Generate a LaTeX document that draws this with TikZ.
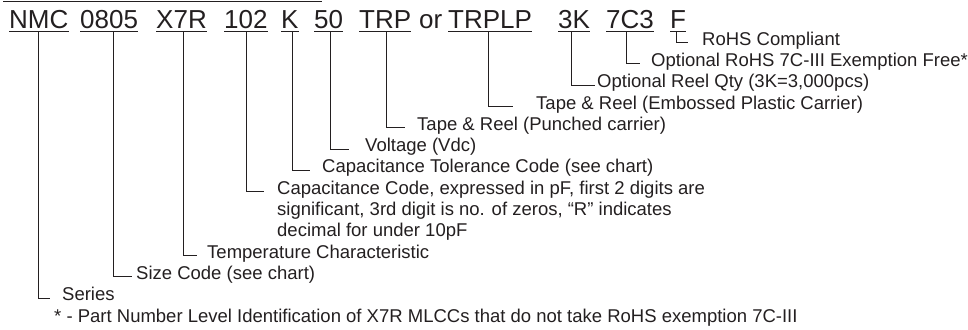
\documentclass[tikz,border=0pt]{standalone}
\usepackage{fontspec}
\setmainfont{Liberation Sans}
\definecolor{ink}{RGB}{35,31,32}
\begin{document}
\begin{tikzpicture}[x=1pt,y=-1pt,
  ink/.style={color=ink},
  tok/.style={inner sep=0pt,anchor=base west,font=\fontsize{26}{30}\selectfont,text=ink},
  lab/.style={inner sep=0pt,anchor=mid west,font=\fontsize{18.5}{22}\selectfont,text=ink},
  conn/.style={draw=ink,line width=0.9pt},
  uline/.style={draw=ink,line width=1pt}]
\useasboundingbox (0,0) rectangle (968,329);
% top rule
\coordinate (r1) at (3,2);
\coordinate (r2) at (322,2);
\draw[uline] (r1) -- (r2);
% header tokens
\node[tok] (tNMC) at (9,28.3) {NMC};
\node[tok] (t0805) at (80,28.3) {0805};
\node[tok] (tX7R) at (156,28.3) {X7R};
\node[tok] (t102) at (224,28.3) {102};
\node[tok] (tK) at (281,28.3) {K};
\node[tok] (t50) at (314,28.3) {50};
\node[tok] (tTRP) at (359,28.3) {TRP};
\node[tok] (tor) at (419,28.3) {or};
\node[tok] (tTRPLP) at (448,28.3) {TRPLP};
\node[tok] (t3K) at (558,28.3) {3K};
\node[tok] (t7C3) at (606,28.3) {7C3};
\node[tok] (tF) at (670,28.3) {F};
\foreach \t in {tNMC,t0805,tX7R,t102,tK,t50,tTRP,tTRPLP,t3K,t7C3,tF}
  \draw[uline] ([yshift=-3.6pt]\t.base west) -- ([yshift=-3.6pt]\t.base east);
% labels
\node[lab] (lF) at (702,42.5) {RoHS Compliant};
\node[lab] (l7C3) at (651,63.8) {Optional RoHS 7C-III Exemption Free*};
\node[lab] (l3K) at (597,85.1) {Optional Reel Qty (3K=3,000pcs)};
\node[lab] (lTRPLP) at (536,106.4) {Tape \& Reel (Embossed Plastic Carrier)};
\node[lab] (lTRP) at (417,127.7) {Tape \& Reel (Punched carrier)};
\node[lab] (l50) at (365,149) {Voltage (Vdc)};
\node[lab] (lK) at (322,170.3) {Capacitance Tolerance Code (see chart)};
\node[lab] (l102) at (277,191.6) {Capacitance Code, expressed in pF, first 2 digits are};
\node[lab] (l102b) at (277,212.9) {significant, 3rd digit is no. of zeros, “R” indicates};
\node[lab] (l102c) at (277,234.2) {decimal for under 10pF};
\node[lab] (lX7R) at (207,255.5) {Temperature Characteristic};
\node[lab] (l0805) at (136,276.8) {Size Code (see chart)};
\node[lab] (lNMC) at (62,298.1) {Series};
\node[lab] (lnote) at (54,319.4) {* - Part Number Level Identification of X7R MLCCs that do not take RoHS exemption 7C-III};
% connectors
\draw[conn] ([xshift=6pt,yshift=-3.6pt]tF.base west) |- ([xshift=-14pt]lF.mid west);
\draw[conn] ([xshift=20.5pt,yshift=-3.6pt]t7C3.base west) |- ([xshift=-11pt]l7C3.mid west);
\draw[conn] ([xshift=13.5pt,yshift=-3.6pt]t3K.base west) |- ([xshift=-2.5pt]l3K.mid west);
\draw[conn] ([xshift=40.5pt,yshift=-3.6pt]tTRPLP.base west) |- ([xshift=-23pt]lTRPLP.mid west);
\draw[conn] ([xshift=27pt,yshift=-3.6pt]tTRP.base west) |- ([xshift=-12pt]lTRP.mid west);
\draw[conn] ([xshift=16pt,yshift=-3.6pt]t50.base west) |- ([xshift=-16pt]l50.mid west);
\draw[conn] ([xshift=11pt,yshift=-3.6pt]tK.base west) |- ([xshift=-12pt]lK.mid west);
\draw[conn] ([xshift=22.5pt,yshift=-3.6pt]t102.base west) |- ([xshift=-13pt]l102.mid west);
\draw[conn] ([xshift=27pt,yshift=-3.6pt]tX7R.base west) |- ([xshift=-10pt]lX7R.mid west);
\draw[conn] ([xshift=33pt,yshift=-3.6pt]t0805.base west) |- ([xshift=-4pt]l0805.mid west);
\draw[conn] ([xshift=29pt,yshift=-3.6pt]tNMC.base west) |- ([xshift=-12pt]lNMC.mid west);
\end{tikzpicture}
\end{document}
